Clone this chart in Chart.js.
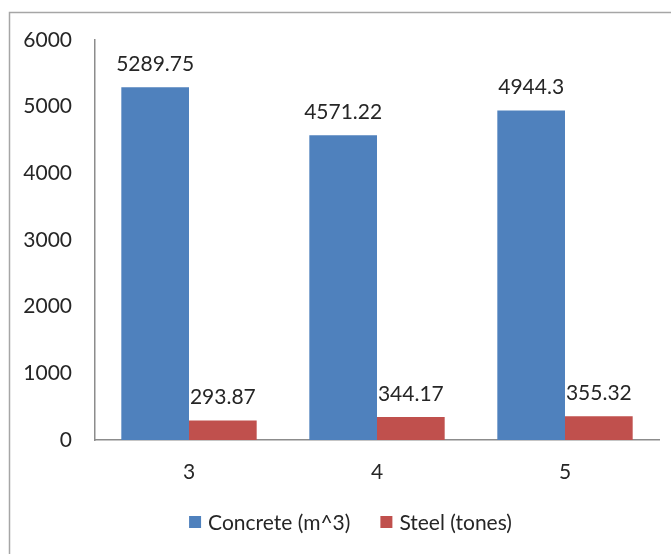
<!DOCTYPE html>
<html>
<head>
<meta charset="utf-8">
<script src="https://cdn.jsdelivr.net/npm/chart.js@4/dist/chart.umd.min.js"></script>
<style>
  html, body { margin: 0; padding: 0; background: #fff; }
  #wrap { width: 671px; height: 554px; position: relative; }
</style>
</head>
<body>
<div id="wrap"><canvas id="c" width="671" height="554"></canvas></div>
<script>
// Material quantities per category
const categories = ['3', '4', '5'];
const concrete = [5289.75, 4571.22, 4944.3];
const steel = [293.87, 344.17, 355.32];
const seriesNames = ['Concrete (m^3)', 'Steel (tones)'];
const yTicks = [0, 1000, 2000, 3000, 4000, 5000, 6000];

const FONT = 'Lato, "Open Sans", sans-serif';
const FSIZE = 21;
const TEXT = '#262626';
const AXIS = '#8c8c8c';

// Value labels drawn above each bar
const valueLabels = {
  id: 'valueLabels',
  afterDatasetsDraw(chart) {
    const ctx = chart.ctx;
    ctx.save();
    ctx.font = FSIZE + 'px ' + FONT;
    ctx.fillStyle = TEXT;
    ctx.textAlign = 'center';
    ctx.textBaseline = 'middle';
    chart.data.datasets.forEach((ds, i) => {
      chart.getDatasetMeta(i).data.forEach((el, j) => {
        ctx.fillText(String(ds.data[j]), el.x, el.y - 23);
      });
    });
    ctx.restore();
  }
};

// Frame around the chart and legend at the bottom
const frameAndLegend = {
  id: 'frameAndLegend',
  afterDraw(chart) {
    const ctx = chart.ctx;
    ctx.save();
    ctx.strokeStyle = '#a6a6a6';
    ctx.lineWidth = 1.5;
    ctx.beginPath();
    ctx.moveTo(9.5, 600);
    ctx.lineTo(9.5, 12.5);
    ctx.lineTo(700, 12.5);
    ctx.stroke();

    ctx.font = FSIZE + 'px ' + FONT;
    ctx.textBaseline = 'middle';
    ctx.textAlign = 'left';
    const box = 12, gap = 7, spacing = 30;
    const items = chart.data.datasets.map(d => ({ label: d.label, color: d.backgroundColor }));
    const widths = items.map(it => box + gap + ctx.measureText(it.label).width);
    const total = widths.reduce((a, b) => a + b, 0) + spacing * (items.length - 1);
    let x = (chart.width - total) / 2 + 15;
    const y = 522;
    items.forEach((it, k) => {
      ctx.fillStyle = it.color;
      ctx.fillRect(x, y - box / 2, box, box);
      ctx.fillStyle = TEXT;
      ctx.fillText(it.label, x + box + gap, y + 1);
      x += widths[k] + spacing;
    });
    ctx.restore();
  }
};

new Chart(document.getElementById('c'), {
  type: 'bar',
  data: {
    labels: categories,
    datasets: [
      { label: seriesNames[0], data: concrete, backgroundColor: '#4f81bd' },
      { label: seriesNames[1], data: steel, backgroundColor: '#c0504d' }
    ]
  },
  options: {
    responsive: false,
    animation: false,
    devicePixelRatio: 1,
    layout: { padding: { top: 40, right: 12, bottom: 0, left: 0 } },
    datasets: { bar: { categoryPercentage: 0.72, barPercentage: 1.0 } },
    plugins: { legend: { display: false }, tooltip: { enabled: false } },
    scales: {
      x: {
        grid: { display: false, drawTicks: false },
        border: { display: true, color: AXIS, width: 1.5 },
        ticks: { color: TEXT, font: { family: FONT, size: FSIZE }, padding: 20 },
        afterFit(s) { s.height = 114; }
      },
      y: {
        min: 0, max: 6000,
        grid: { display: false, drawTicks: false },
        border: { display: true, color: AXIS, width: 1.5 },
        afterBuildTicks(s) { s.ticks = yTicks.map(v => ({ value: v })); },
        ticks: {
          color: TEXT, font: { family: FONT, size: FSIZE }, padding: 23,
          callback: v => String(v)
        },
        afterFit(s) { s.width = 95; }
      }
    }
  },
  plugins: [valueLabels, frameAndLegend]
});
</script>
</body>
</html>
